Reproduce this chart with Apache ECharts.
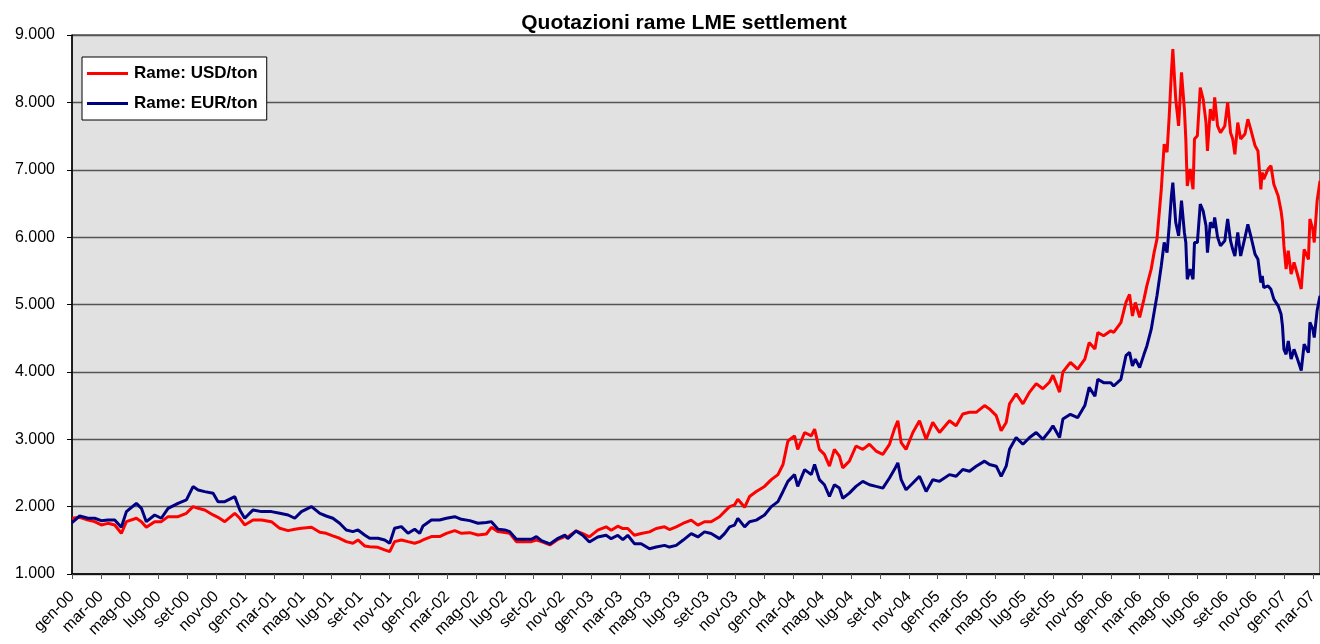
<!DOCTYPE html>
<html>
<head>
<meta charset="utf-8">
<script src="https://cdn.jsdelivr.net/npm/echarts@6/dist/echarts.min.js"></script>
<style>html,body{margin:0;padding:0;background:#fff}#c{width:1320px;height:644px}</style>
</head>
<body>
<div id="c"></div>
<script>
// months since Jan 2000 (0 = gen-00)
const months = [
0,0.53,1.11,1.57,2.03,2.49,2.96,3.42,3.77,4.46,4.81,5.15,5.73,6.19,6.66,7.35,7.93,8.39,8.74,9.2,9.78,10.12,10.59,11.28,11.63,11.97,12.55,13.13,13.82,14.4,14.98,15.44,15.9,16.6,17.18,
17.62,18.08,18.55,19.01,19.47,19.82,20.28,20.63,21.21,21.67,22.02,22.36,22.83,23.29,23.75,24.1,24.33,24.91,25.48,25.95,26.53,26.99,27.57,28.14,28.72,29.07,29.53,29.99,30.34,30.8,31.27,31.84,32.19,32.54,33.12,33.69,34.16,
34.36,34.94,35.4,35.86,36.44,37.02,37.37,37.83,38.18,38.52,38.98,39.45,40.03,40.49,41.07,41.41,41.88,42.34,42.92,43.38,43.84,44.3,44.88,45.23,45.58,45.92,46.15,46.62,46.96,47.43,48.0,48.47,48.93,49.28,49.62,50.08,50.3,50.78,51.24,51.47,
51.8,52.15,52.5,52.84,53.19,53.42,53.88,54.34,54.81,55.27,55.73,56.2,56.66,57.0,57.24,57.47,57.81,58.28,58.74,59.2,59.66,60.13,60.82,61.28,61.74,62.21,62.67,63.25,63.59,64.06,64.4,64.75,64.98,65.44,65.91,66.37,66.83,67.29,67.76,67.99,68.45,68.68,
69.2,69.7,70.2,70.5,70.9,71.1,71.5,72.0,72.2,72.7,73.05,73.3,73.5,73.7,74.0,74.3,74.5,74.8,75.0,75.2,75.5,75.7,75.9,76.05,76.2,76.3,76.5,76.7,76.9,77.1,77.2,77.3,77.5,77.7,77.8,78.0,78.2,78.4,78.6,78.7,78.9,79.1,79.2,79.4,79.6,79.9,80.1,80.3,80.45,80.6,80.8,81.0,81.3,81.5,81.7,82.0,82.2,82.4,82.5,82.6,82.9,83.1,83.3,83.6,83.8,83.9,84.0,84.15,84.3,84.5,84.7,84.9,85.2,85.4,85.7,85.8,86.0,86.1,86.3,86.5
];
const usd = [
1827,1842,1802,1777,1728,1752,1728,1604,1777,1827,1777,1693,1777,1777,1851,1851,1901,2000,1975,1951,1876,1842,1777,1901,1827,1728,1802,1802,1777,1678,1644,1664,1678,1693,1620,
1604,1565,1530,1480,1456,1505,1416,1406,1396,1357,1332,1480,1505,1480,1456,1480,1505,1555,1555,1604,1644,1604,1614,1579,1594,1693,1629,1614,1604,1480,1480,1480,1505,1480,1431,1515,1555,
1550,1640,1600,1550,1650,1700,1650,1710,1675,1675,1575,1600,1625,1675,1700,1660,1700,1750,1800,1725,1775,1775,1850,1925,2000,2025,2110,1990,2150,2225,2300,2400,2475,2625,2975,3050,2850,3100,3050,3150,
2850,2775,2600,2850,2750,2575,2675,2900,2850,2925,2825,2775,2925,3150,3275,2950,2850,3100,3275,3000,3250,3100,3275,3200,3375,3400,3400,3500,3450,3350,3125,3250,3525,3675,3525,3700,3825,3750,3850,3950,3700,4000,
4140,4040,4190,4435,4340,4585,4535,4610,4585,4730,5030,5150,4830,5030,4810,5080,5280,5525,5770,5970,6710,7380,7260,7800,8445,8790,8050,7650,8445,7900,7455,6760,7010,6710,7455,7505,8220,8050,7700,7280,7900,7730,8075,7650,7550,7650,8000,7550,7455,7230,7700,7455,7530,7750,7600,7355,7280,6710,6960,6860,7010,7060,6785,6610,6390,6220,5870,5525,5800,5450,5625,5475,5230,5820,5670,6270,6120,5920,6540,6835
];
const eur = [
1763,1861,1827,1827,1792,1802,1802,1693,1926,2049,1975,1777,1876,1827,1975,2049,2099,2297,2247,2223,2198,2074,2074,2148,1951,1827,1951,1926,1926,1901,1876,1827,1926,2000,1900,
1861,1827,1753,1654,1629,1654,1579,1530,1530,1505,1456,1678,1703,1604,1664,1604,1713,1802,1802,1827,1851,1812,1792,1753,1763,1777,1664,1654,1629,1515,1515,1515,1555,1495,1446,1530,1579,
1525,1640,1575,1475,1550,1575,1525,1575,1510,1575,1450,1450,1375,1400,1425,1400,1425,1500,1600,1550,1625,1600,1525,1600,1700,1725,1825,1700,1775,1800,1875,2000,2075,2225,2375,2475,2300,2550,2475,2625,
2400,2325,2150,2325,2275,2125,2200,2300,2375,2325,2300,2275,2425,2550,2650,2400,2250,2350,2450,2225,2400,2375,2475,2450,2550,2525,2600,2675,2625,2600,2450,2600,2850,3025,2925,3025,3100,3000,3125,3200,3025,3300,
3370,3320,3500,3770,3640,3890,3840,3840,3790,3890,4240,4290,4090,4190,4065,4260,4385,4630,4880,5130,5575,5920,5770,6170,6610,6810,6220,6020,6540,6070,5920,5375,5525,5375,5920,5920,6490,6390,6170,5770,6220,6140,6290,6000,5870,5945,6270,5945,5820,5720,6070,5720,5995,6190,6020,5745,5670,5325,5425,5250,5275,5225,5080,4980,4860,4680,4335,4260,4460,4190,4335,4215,4020,4410,4285,4735,4635,4510,4910,5130
];
const tickLabels = [
'gen-00','mar-00','mag-00','lug-00','set-00','nov-00',
'gen-01','mar-01','mag-01','lug-01','set-01','nov-01',
'gen-02','mar-02','mag-02','lug-02','set-02','nov-02',
'gen-03','mar-03','mag-03','lug-03','set-03','nov-03',
'gen-04','mar-04','mag-04','lug-04','set-04','nov-04',
'gen-05','mar-05','mag-05','lug-05','set-05','nov-05',
'gen-06','mar-06','mag-06','lug-06','set-06','nov-06',
'gen-07','mar-07'
];
const seriesNames = ['Rame: USD/ton','Rame: EUR/ton'];

const FONT = "'Liberation Sans', Arial, sans-serif";
const chart = echarts.init(document.getElementById('c'), null, {renderer:'canvas'});
chart.setOption({
  animation: false,
  backgroundColor: '#ffffff',
  title: {
    text: 'Quotazioni rame LME settlement',
    left: 679, top: 8, textAlign: 'center',
    textStyle: {fontFamily: FONT, fontWeight: 'bold', fontSize: 21, color: '#000'}
  },
  legend: {
    orient: 'vertical', left: 82, top: 57,
    backgroundColor: '#ffffff', borderColor: '#000', borderWidth: 1,
    padding: [8, 9, 8, 5], itemGap: 13,
    icon: 'rect', itemWidth: 41, itemHeight: 3,
    textStyle: {fontFamily: FONT, fontWeight: 'bold', fontSize: 17, color: '#000', padding: [0,0,0,1]},
    data: seriesNames
  },
  grid: {left: 72, right: 0, top: 35, bottom: 70, show: true, backgroundColor: '#e1e1e1',
         borderColor: '#000', borderWidth: 1, outerBoundsMode: 'none'},
  xAxis: {
    type: 'value', min: 0, max: 86.5, interval: 2,
    axisLine: {onZero: false, lineStyle: {color: '#000', width: 1.5}},
    axisTick: {show: true, length: 5, lineStyle: {color: '#555'}},
    splitLine: {show: false},
    axisLabel: {
      rotate: 45, margin: 20, color: '#000', fontFamily: FONT, fontSize: 16,
      showMaxLabel: false,
      formatter: v => { const i = Math.round(v / 2); return (Math.abs(v - i*2) < 1e-6 && tickLabels[i]) ? tickLabels[i] : ''; }
    }
  },
  yAxis: {
    type: 'value', min: 1000, max: 9000, interval: 1000,
    axisLine: {show: true, lineStyle: {color: '#000', width: 1.5}},
    axisTick: {show: true, length: 5, lineStyle: {color: '#000'}},
    splitLine: {show: true, lineStyle: {color: '#555', width: 1.3}},
    axisLabel: {
      margin: 17, color: '#000', fontFamily: FONT, fontSize: 16,
      formatter: v => (v / 1000) + '.000'
    }
  },
  series: [
    {name: seriesNames[0], type: 'line', symbol: 'none', color: '#ff0000',
     lineStyle: {width: 3, color: '#ff0000'}, z: 2,
     data: months.map((m, i) => [m, usd[i]])},
    {name: seriesNames[1], type: 'line', symbol: 'none', color: '#000080',
     lineStyle: {width: 3, color: '#000080'}, z: 3,
     data: months.map((m, i) => [m, eur[i]])}
  ]
});
</script>
</body>
</html>
